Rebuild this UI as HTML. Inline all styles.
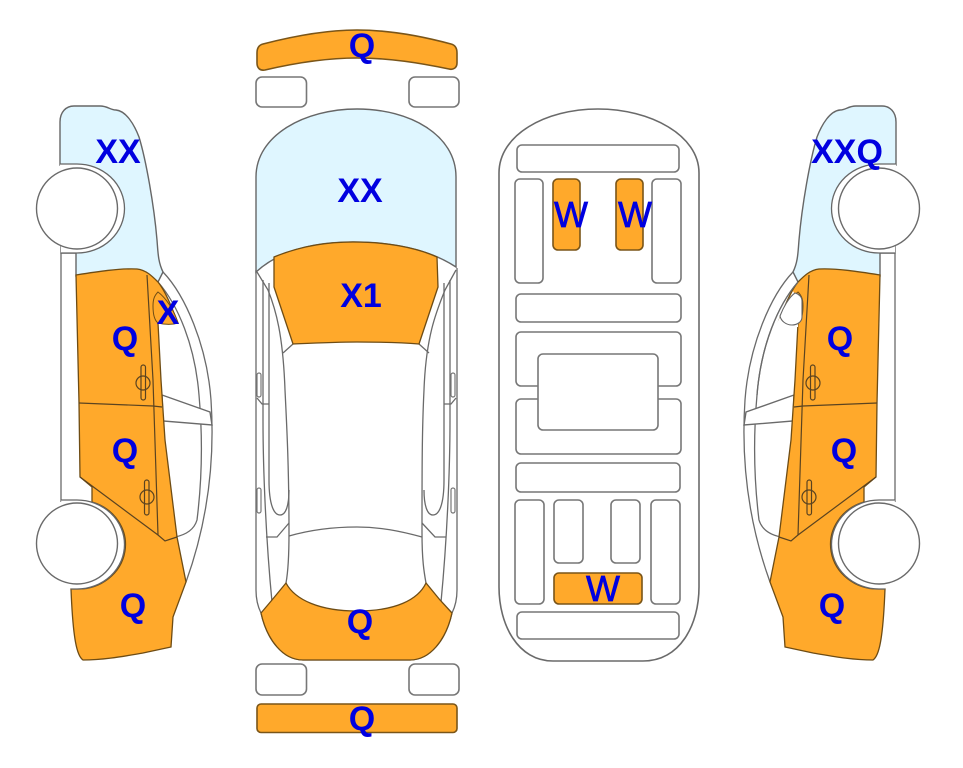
<!DOCTYPE html>
<html><head><meta charset="utf-8"><style>
html,body{margin:0;padding:0;background:#fff;width:963px;height:768px;overflow:hidden}
svg{display:block}
.o{fill:#FFA92B;stroke:#6e4c14;stroke-width:1.3}
.b{fill:#DFF6FF;stroke:#666;stroke-width:1.4}
.l{fill:none;stroke:#6a6a6a;stroke-width:1.3}
.d{fill:none;stroke:#5a4320;stroke-width:1.2}
.w{fill:#fff;stroke:#6a6a6a;stroke-width:1.4}
.r{fill:#fff;stroke:#777;stroke-width:1.6}
.ro{fill:#FFA92B;stroke:#7a5518;stroke-width:1.6}
text{font-family:"Liberation Sans",sans-serif;font-weight:bold;fill:#0000E0;font-size:34px;text-anchor:middle}
text.t{font-weight:normal;font-size:36px;stroke:#0000E0;stroke-width:.7}
</style></head><body>
<svg width="963" height="768" viewBox="0 0 963 768" xmlns="http://www.w3.org/2000/svg">
<defs>
<g id="side">
<path class="l" d="M163 272C185 295 207 345 211 400C214 445 212 510 186 582"/>
<path class="l" d="M158 282C178 305 195 345 199 395C203 440 202 480 197 520C194 530 185 535 175 537"/>
<path class="w" d="M162 395L210 412L212 425L163 421Z"/>
<path class="l" d="M61 253V502"/>
<path class="b" d="M60 165V122C60 112 66 106 74 106L100 106C108 106 110 110 116 110C126 111 134 124 139 137C146 160 154 205 157 240C158 252 158 262 163 272L158 282L137 270L76 276L76 253L61 253V165Z"/>
<path class="o" d="M76 275C95 272 120 268 137 269C146 270 152 276 158 282C166 292 172 308 178 323L158 323L161 380L165 440L177 537L186 582L173 617L171 647L143 653C125 656 105 660 83 660C77 656 73 640 71 589L77 589A47.5 44.5 0 0 0 92 502V487L80 477L79 403Z"/>
<path class="d" d="M147 275L153 380L158 535"/>
<path class="d" d="M79 403L153 406L162 407"/>
<path class="d" d="M80 477L158 535L165 541L177 537"/>
<path class="o" d="M158 292C154 296 153 300 153 306C153 314 154 320 158 323C166 325 172 325 178 323C174 310 166 298 158 292Z" style="stroke-width:1"/>
<path d="M60 164H77A47.5 44.5 0 0 1 77 253H61" fill="#fff" stroke="#666" stroke-width="1.3"/>
<path d="M61 500H77A47.5 44.5 0 0 1 77 589H71" fill="#fff" stroke="#666" stroke-width="1.3"/>
<circle class="w" cx="77" cy="208.500" r="40.500"/>
<circle class="w" cx="77" cy="543.500" r="40.500"/>
<rect class="d" x="141" y="365" width="4.500" height="35" rx="2.200"/>
<ellipse class="d" cx="143" cy="383" rx="7" ry="7"/>
<rect class="d" x="144.500" y="480" width="4.500" height="35" rx="2.200"/>
<ellipse class="d" cx="147" cy="497" rx="7" ry="7"/>
</g>
</defs>

<use href="#side"/>
<use href="#side" transform="translate(956,0) scale(-1,1)"/>
<path d="M793 291L775 327L798 327L798 300Z" fill="#fff"/>
<path d="M798 282C778 305 761 345 757 395" fill="none" stroke="#6a6a6a" stroke-width="1.3"/>
<path d="M795 293C799 294 802 297 802 301V317C802 322 797 325 792 325C786 325 781 321 780 316C783 308 789 297 795 293Z" fill="#fff" stroke="#666" stroke-width="1.1"/>

<!-- top view -->
<path class="ro" d="M257 53C257 48 259 45 263 44C290 37 325 30 357 30C390 30 425 37 451 44C455 45 457 48 457 53V63C457 68 453 70 449 69C420 63 390 58 357 58C325 58 295 63 265 70C260 71 257 68 257 63Z"/>
<rect class="r" x="256" y="77" width="50.500" height="30" rx="6"/>
<rect class="r" x="409" y="77" width="50" height="30" rx="6"/>
<path class="l" d="M256 270V590C256 600 258 607 261 613C267 640 283 660 303 660H410C430 660 446 640 452 613C455 607 457 600 457 590V268"/>
<path class="l" d="M263 280V420C263 470 266 540 272 602"/>
<path class="l" d="M269 283V480C269 505 274 515 280 515C286 515 289 505 289 490"/>
<path class="l" d="M257 272L268 290C276 310 283 335 285 390C287 430 289 470 289 533C289 560 288 572 286 583"/>
<path class="l" d="M450 280V420C450 470 447 540 441 602"/>
<path class="l" d="M444 283V480C444 505 439 515 433 515C427 515 424 505 424 490"/>
<path class="l" d="M456 270L445 290C437 310 426 335 424 390C422 430 422 470 422 533C422 560 424 572 426 583"/>
<path class="l" d="M283 353L293 344M429 353L419 344"/>
<path class="l" d="M289 536C310 530 335 527 357 527C380 527 400 531 422 537"/>
<path class="l" d="M266 537H277L289 523M446 537H435L422 523"/>
<path class="l" d="M257 398L262 404H269M456 398L451 404H444"/>
<rect class="r" x="257" y="373" width="4" height="24" rx="2" style="stroke-width:1.2"/>
<rect class="r" x="257" y="488" width="4" height="25" rx="2" style="stroke-width:1.2"/>
<rect class="r" x="451" y="373" width="4" height="24" rx="2" style="stroke-width:1.2"/>
<rect class="r" x="451" y="488" width="4" height="25" rx="2" style="stroke-width:1.2"/>
<path class="b" d="M256 272V177C256 135 305 109 357 109C410 109 456 135 456 177V267C430 250 395 242 353 242C315 242 280 250 256 272Z"/>
<path class="o" d="M274 257C298 247 325 242 353 242C385 242 415 247 437 257L438 287L419 344C395 342 375 342 357 342C335 342 315 343 293 344L274 287Z"/>
<path class="o" d="M261 613L272 600L286 583C295 600 320 611 357 611C395 611 418 600 426 583L440 600L452 613C446 640 430 660 410 660H303C283 660 267 640 261 613Z"/>
<rect class="r" x="256" y="664" width="50.500" height="31" rx="6"/>
<rect class="r" x="409" y="664" width="50" height="31" rx="6"/>
<rect class="ro" x="257" y="704" width="200" height="28.500" rx="4"/>

<!-- underside -->
<path class="l" style="stroke-width:1.6" d="M499 173C499 135 545 109 598 109C650 109 699 135 699 173V587C699 625 680 661 643 661H553C518 661 499 625 499 587Z"/>
<rect class="r" x="517" y="145" width="162" height="27" rx="5"/>
<rect class="r" x="515" y="179" width="28" height="104" rx="5"/>
<rect class="ro" x="553" y="179" width="27" height="71" rx="5"/>
<rect class="ro" x="616" y="179" width="27" height="71" rx="5"/>
<rect class="r" x="652" y="179" width="29" height="104" rx="5"/>
<rect class="r" x="516" y="294" width="165" height="28" rx="5"/>
<rect class="r" x="516" y="332" width="165" height="54" rx="5"/>
<rect class="r" x="516" y="399" width="165" height="55" rx="5"/>
<rect class="r" x="538" y="354" width="120" height="76" rx="5"/>
<rect class="r" x="516" y="463" width="164" height="29" rx="5"/>
<rect class="r" x="515" y="500" width="29" height="104" rx="5"/>
<rect class="r" x="554" y="500" width="29" height="63" rx="5"/>
<rect class="r" x="611" y="500" width="29" height="63" rx="5"/>
<rect class="r" x="651" y="500" width="29" height="104" rx="5"/>
<rect class="ro" x="554" y="573" width="88" height="31" rx="5"/>
<rect class="r" x="517" y="612" width="162" height="27" rx="5"/>

<!-- labels -->
<text x="118" y="163">XX</text>
<text x="125" y="350">Q</text>
<text x="168" y="324">X</text>
<text x="125" y="462">Q</text>
<text x="133" y="617">Q</text>
<text x="362" y="57">Q</text>
<text x="360" y="202">XX</text>
<text x="361" y="307">X1</text>
<text x="360" y="633">Q</text>
<text x="362" y="730">Q</text>
<text class="t" x="571" y="227">W</text>
<text class="t" x="635" y="227">W</text>
<text class="t" x="603" y="601">W</text>
<text x="847" y="163">XXQ</text>
<text x="840" y="350">Q</text>
<text x="844" y="462">Q</text>
<text x="832" y="617">Q</text>
</svg>
</body></html>
